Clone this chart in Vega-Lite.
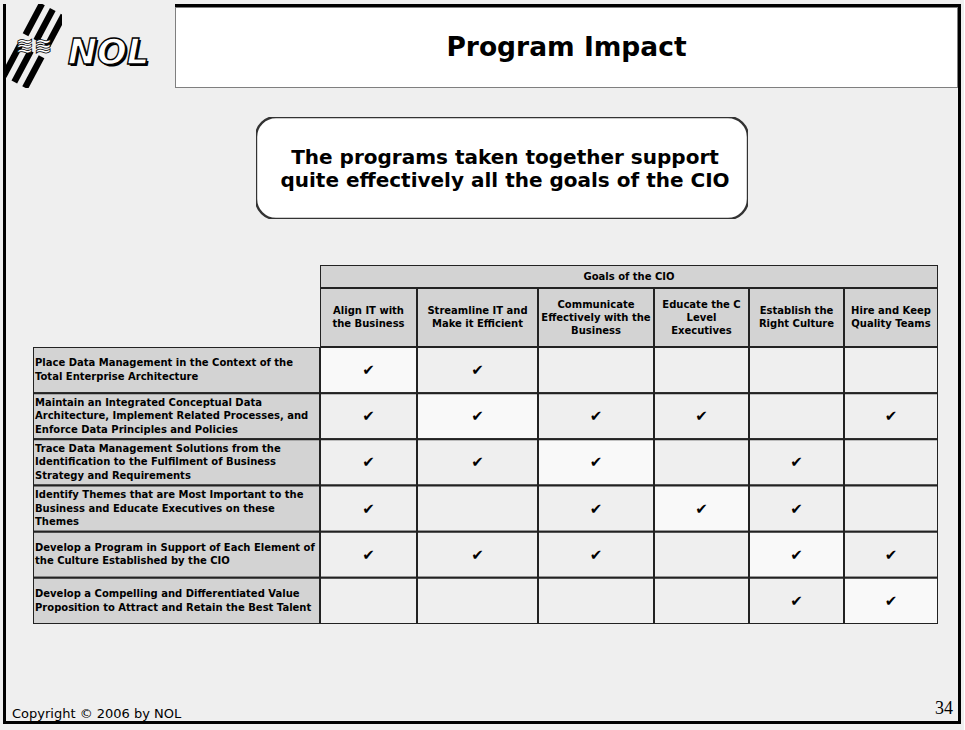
{
  "$schema": "https://vega.github.io/schema/vega-lite/v6.json",
  "padding": {"left": 3, "top": 4, "right": 3, "bottom": 6},
  "background": "#efefef",
  "config": {
    "view": {"stroke": null},
    "text": {"font": "DejaVu Sans", "color": "black"},
    "concat": {"spacing": 0}
  },
  "datasets": {
    "goals": [
      {"g": 1, "label": "Align IT with\nthe Business"},
      {"g": 2, "label": "Streamline IT and\nMake it Efficient"},
      {"g": 3, "label": "Communicate\nEffectively with the\nBusiness"},
      {"g": 4, "label": "Educate the C\nLevel\nExecutives"},
      {"g": 5, "label": "Establish the\nRight Culture"},
      {"g": 6, "label": "Hire and Keep\nQuality Teams"}
    ],
    "programs": [
      {"p": 1, "label": "Place Data Management in the Context of the\nTotal Enterprise Architecture"},
      {"p": 2, "label": "Maintain an Integrated Conceptual Data\nArchitecture, Implement Related Processes, and\nEnforce Data Principles and Policies"},
      {"p": 3, "label": "Trace Data Management Solutions from the\nIdentification to the Fulfilment of Business\nStrategy and Requirements"},
      {"p": 4, "label": "Identify Themes that are Most Important to the\nBusiness and Educate Executives on these\nThemes"},
      {"p": 5, "label": "Develop a Program in Support of Each Element of\nthe Culture Established by the CIO"},
      {"p": 6, "label": "Develop a Compelling and Differentiated Value\nProposition to Attract and Retain the Best Talent"}
    ],
    "cells": [
      {"p": 1, "g": 1, "supported": true}, {"p": 1, "g": 2, "supported": true}, {"p": 1, "g": 3, "supported": false},
      {"p": 1, "g": 4, "supported": false}, {"p": 1, "g": 5, "supported": false}, {"p": 1, "g": 6, "supported": false},
      {"p": 2, "g": 1, "supported": true}, {"p": 2, "g": 2, "supported": true}, {"p": 2, "g": 3, "supported": true},
      {"p": 2, "g": 4, "supported": true}, {"p": 2, "g": 5, "supported": false}, {"p": 2, "g": 6, "supported": true},
      {"p": 3, "g": 1, "supported": true}, {"p": 3, "g": 2, "supported": true}, {"p": 3, "g": 3, "supported": true},
      {"p": 3, "g": 4, "supported": false}, {"p": 3, "g": 5, "supported": true}, {"p": 3, "g": 6, "supported": false},
      {"p": 4, "g": 1, "supported": true}, {"p": 4, "g": 2, "supported": false}, {"p": 4, "g": 3, "supported": true},
      {"p": 4, "g": 4, "supported": true}, {"p": 4, "g": 5, "supported": true}, {"p": 4, "g": 6, "supported": false},
      {"p": 5, "g": 1, "supported": true}, {"p": 5, "g": 2, "supported": true}, {"p": 5, "g": 3, "supported": true},
      {"p": 5, "g": 4, "supported": false}, {"p": 5, "g": 5, "supported": true}, {"p": 5, "g": 6, "supported": true},
      {"p": 6, "g": 1, "supported": false}, {"p": 6, "g": 2, "supported": false}, {"p": 6, "g": 3, "supported": false},
      {"p": 6, "g": 4, "supported": false}, {"p": 6, "g": 5, "supported": true}, {"p": 6, "g": 6, "supported": true}
    ]
  },
  "spacing": 0,
  "vconcat": [
    {
      "spacing": 0,
      "hconcat": [
        {"width": 3, "height": 717, "data": {"values": []}, "mark": "point", "view": {"fill": "black"}},
        {
          "spacing": 0,
          "vconcat": [
            {
              "spacing": 0,
              "hconcat": [
                {"width": 56, "height": 84, "data": {"values": [{"bars": "≡≡", "waves": "≋≋"}]},
                 "layer": [
                   {"mark": {"type": "text", "fontSize": 56, "fontWeight": "bold", "fill": "black", "angle": -62, "clip": true},
                    "encoding": {"text": {"field": "bars"}}},
                   {"mark": {"type": "text", "fontSize": 22, "fontWeight": "bold", "fill": "white", "stroke": "black", "strokeWidth": 0.8, "clip": true},
                    "encoding": {"text": {"field": "waves"}}}
                 ]},
                {"width": 113, "height": 84, "data": {"values": [{"t": "NOL"}]},
                 "layer": [
                   {"mark": {"type": "text", "fontSize": 35, "fontWeight": "bold", "fontStyle": "italic", "fill": "black", "dx": -8, "dy": 9},
                    "encoding": {"text": {"field": "t"}}},
                   {"mark": {"type": "text", "fontSize": 35, "fontWeight": "bold", "fontStyle": "italic", "fill": "white", "stroke": "black", "strokeWidth": 1.3, "dx": -10, "dy": 7},
                    "encoding": {"text": {"field": "t"}}}
                 ]},
                {
                  "spacing": 0,
                  "vconcat": [
                    {"width": 783, "height": 3, "data": {"values": []}, "mark": "point", "view": {"fill": "black"}},
                    {"width": 783, "height": 81, "data": {"values": [{"t": "Program Impact"}]},
                     "layer": [
                       {"mark": {"type": "rect", "fill": "white", "stroke": "#7f7f7f", "strokeWidth": 2, "clip": true}},
                       {"mark": {"type": "text", "fontSize": 26.5, "fontWeight": "bold", "fill": "black"},
                        "encoding": {"text": {"field": "t"}}}
                     ]}
                  ]
                }
              ]
            },
            {"width": 952, "height": 29, "data": {"values": []}, "mark": "point"},
            {
              "spacing": 0,
              "hconcat": [
                {"width": 250, "height": 102, "data": {"values": []}, "mark": "point"},
                {"width": 492, "height": 102,
                 "data": {"values": [{"t": "The programs taken together support\nquite effectively all the goals of the CIO"}]},
                 "layer": [
                   {"mark": {"type": "rect", "fill": "white", "stroke": "#333333", "strokeWidth": 2.4, "cornerRadius": 20, "clip": true}},
                   {"mark": {"type": "text", "fontSize": 20, "fontWeight": "bold", "lineBreak": "\n", "lineHeight": 23, "fill": "black", "dx": 3, "dy": -10},
                    "encoding": {"text": {"field": "t"}}}
                 ]}
              ]
            },
            {"width": 952, "height": 46, "data": {"values": []}, "mark": "point"},
            {
              "spacing": 0,
              "hconcat": [
                {"width": 27, "height": 359, "data": {"values": []}, "mark": "point"},
                {
                  "spacing": 0,
                  "vconcat": [
                    {"width": 287, "height": 82, "data": {"values": []}, "mark": "point"},
                    {"width": 287, "height": 277, "data": {"name": "programs"},
                     "encoding": {"y": {"field": "p", "type": "ordinal", "axis": null, "scale": {"domain": [1, 2, 3, 4, 5, 6], "paddingInner": 0, "paddingOuter": 0}}},
                     "layer": [
                       {"mark": {"type": "rect", "fill": "#d3d3d3", "stroke": "#222222", "strokeWidth": 2, "clip": true}},
                       {"transform": [{"filter": "indexof(datum.label, '\\n') == lastindexof(datum.label, '\\n')"}],
                        "mark": {"type": "text", "align": "left", "fontWeight": "bold", "fontSize": 10, "lineBreak": "\n", "lineHeight": 13.3, "dx": 2, "dy": -6.65, "fill": "black"},
                        "encoding": {"text": {"field": "label"}, "x": {"datum": 0, "type": "quantitative", "scale": {"domain": [0, 1]}, "axis": null}}},
                       {"transform": [{"filter": "indexof(datum.label, '\\n') != lastindexof(datum.label, '\\n')"}],
                        "mark": {"type": "text", "align": "left", "fontWeight": "bold", "fontSize": 10, "lineBreak": "\n", "lineHeight": 13.3, "dx": 2, "dy": -13.3, "fill": "black"},
                        "encoding": {"text": {"field": "label"}, "x": {"datum": 0, "type": "quantitative", "axis": null}}}
                     ]}
                  ]
                },
                {
                  "spacing": 0,
                  "vconcat": [
                    {"width": 618, "height": 23, "data": {"values": [{"t": "Goals of the CIO"}]},
                     "layer": [
                       {"mark": {"type": "rect", "fill": "#d3d3d3", "stroke": "#222222", "strokeWidth": 2, "clip": true}},
                       {"mark": {"type": "text", "fontWeight": "bold", "fontSize": 10, "fill": "black"},
                        "encoding": {"text": {"field": "t"}}}
                     ]},
                    {
                      "spacing": 0,
                      "hconcat": [
                        {"width": 97, "height": 59, "data": {"name": "goals"}, "transform": [{"filter": "datum.g == 1"}],
                         "layer": [
                           {"mark": {"type": "rect", "fill": "#d3d3d3", "stroke": "#222222", "strokeWidth": 2, "clip": true}},
                           {"mark": {"type": "text", "fontWeight": "bold", "fontSize": 10, "lineBreak": "\n", "lineHeight": 13, "dy": -6.5, "fill": "black"},
                            "encoding": {"text": {"field": "label"}}}
                         ]},
                        {"width": 121, "height": 59, "data": {"name": "goals"}, "transform": [{"filter": "datum.g == 2"}],
                         "layer": [
                           {"mark": {"type": "rect", "fill": "#d3d3d3", "stroke": "#222222", "strokeWidth": 2, "clip": true}},
                           {"mark": {"type": "text", "fontWeight": "bold", "fontSize": 10, "lineBreak": "\n", "lineHeight": 13, "dy": -6.5, "fill": "black"},
                            "encoding": {"text": {"field": "label"}}}
                         ]},
                        {"width": 116, "height": 59, "data": {"name": "goals"}, "transform": [{"filter": "datum.g == 3"}],
                         "layer": [
                           {"mark": {"type": "rect", "fill": "#d3d3d3", "stroke": "#222222", "strokeWidth": 2, "clip": true}},
                           {"mark": {"type": "text", "fontWeight": "bold", "fontSize": 10, "lineBreak": "\n", "lineHeight": 13, "dy": -13, "fill": "black"},
                            "encoding": {"text": {"field": "label"}}}
                         ]},
                        {"width": 95, "height": 59, "data": {"name": "goals"}, "transform": [{"filter": "datum.g == 4"}],
                         "layer": [
                           {"mark": {"type": "rect", "fill": "#d3d3d3", "stroke": "#222222", "strokeWidth": 2, "clip": true}},
                           {"mark": {"type": "text", "fontWeight": "bold", "fontSize": 10, "lineBreak": "\n", "lineHeight": 13, "dy": -13, "fill": "black"},
                            "encoding": {"text": {"field": "label"}}}
                         ]},
                        {"width": 95, "height": 59, "data": {"name": "goals"}, "transform": [{"filter": "datum.g == 5"}],
                         "layer": [
                           {"mark": {"type": "rect", "fill": "#d3d3d3", "stroke": "#222222", "strokeWidth": 2, "clip": true}},
                           {"mark": {"type": "text", "fontWeight": "bold", "fontSize": 10, "lineBreak": "\n", "lineHeight": 13, "dy": -6.5, "fill": "black"},
                            "encoding": {"text": {"field": "label"}}}
                         ]},
                        {"width": 94, "height": 59, "data": {"name": "goals"}, "transform": [{"filter": "datum.g == 6"}],
                         "layer": [
                           {"mark": {"type": "rect", "fill": "#d3d3d3", "stroke": "#222222", "strokeWidth": 2, "clip": true}},
                           {"mark": {"type": "text", "fontWeight": "bold", "fontSize": 10, "lineBreak": "\n", "lineHeight": 13, "dy": -6.5, "fill": "black"},
                            "encoding": {"text": {"field": "label"}}}
                         ]}
                      ]
                    },
                    {
                      "spacing": 0,
                      "hconcat": [
                        {"width": 97, "height": 277, "data": {"name": "cells"}, "transform": [{"filter": "datum.g == 1"}],
                         "encoding": {"y": {"field": "p", "type": "ordinal", "axis": null, "scale": {"domain": [1, 2, 3, 4, 5, 6], "paddingInner": 0, "paddingOuter": 0}}},
                         "layer": [
                           {"mark": {"type": "rect", "stroke": "#222222", "strokeWidth": 2, "clip": true},
                            "encoding": {"fill": {"condition": {"test": "datum.p == datum.g", "value": "#f9f9f9"}, "value": "#efefef"}}},
                           {"transform": [{"filter": "datum.supported"}], "mark": {"type": "text", "text": "✔", "fontSize": 15, "fill": "black"}}
                         ]},
                        {"width": 121, "height": 277, "data": {"name": "cells"}, "transform": [{"filter": "datum.g == 2"}],
                         "encoding": {"y": {"field": "p", "type": "ordinal", "axis": null, "scale": {"domain": [1, 2, 3, 4, 5, 6], "paddingInner": 0, "paddingOuter": 0}}},
                         "layer": [
                           {"mark": {"type": "rect", "stroke": "#222222", "strokeWidth": 2, "clip": true},
                            "encoding": {"fill": {"condition": {"test": "datum.p == datum.g", "value": "#f9f9f9"}, "value": "#efefef"}}},
                           {"transform": [{"filter": "datum.supported"}], "mark": {"type": "text", "text": "✔", "fontSize": 15, "fill": "black"}}
                         ]},
                        {"width": 116, "height": 277, "data": {"name": "cells"}, "transform": [{"filter": "datum.g == 3"}],
                         "encoding": {"y": {"field": "p", "type": "ordinal", "axis": null, "scale": {"domain": [1, 2, 3, 4, 5, 6], "paddingInner": 0, "paddingOuter": 0}}},
                         "layer": [
                           {"mark": {"type": "rect", "stroke": "#222222", "strokeWidth": 2, "clip": true},
                            "encoding": {"fill": {"condition": {"test": "datum.p == datum.g", "value": "#f9f9f9"}, "value": "#efefef"}}},
                           {"transform": [{"filter": "datum.supported"}], "mark": {"type": "text", "text": "✔", "fontSize": 15, "fill": "black"}}
                         ]},
                        {"width": 95, "height": 277, "data": {"name": "cells"}, "transform": [{"filter": "datum.g == 4"}],
                         "encoding": {"y": {"field": "p", "type": "ordinal", "axis": null, "scale": {"domain": [1, 2, 3, 4, 5, 6], "paddingInner": 0, "paddingOuter": 0}}},
                         "layer": [
                           {"mark": {"type": "rect", "stroke": "#222222", "strokeWidth": 2, "clip": true},
                            "encoding": {"fill": {"condition": {"test": "datum.p == datum.g", "value": "#f9f9f9"}, "value": "#efefef"}}},
                           {"transform": [{"filter": "datum.supported"}], "mark": {"type": "text", "text": "✔", "fontSize": 15, "fill": "black"}}
                         ]},
                        {"width": 95, "height": 277, "data": {"name": "cells"}, "transform": [{"filter": "datum.g == 5"}],
                         "encoding": {"y": {"field": "p", "type": "ordinal", "axis": null, "scale": {"domain": [1, 2, 3, 4, 5, 6], "paddingInner": 0, "paddingOuter": 0}}},
                         "layer": [
                           {"mark": {"type": "rect", "stroke": "#222222", "strokeWidth": 2, "clip": true},
                            "encoding": {"fill": {"condition": {"test": "datum.p == datum.g", "value": "#f9f9f9"}, "value": "#efefef"}}},
                           {"transform": [{"filter": "datum.supported"}], "mark": {"type": "text", "text": "✔", "fontSize": 15, "fill": "black"}}
                         ]},
                        {"width": 94, "height": 277, "data": {"name": "cells"}, "transform": [{"filter": "datum.g == 6"}],
                         "encoding": {"y": {"field": "p", "type": "ordinal", "axis": null, "scale": {"domain": [1, 2, 3, 4, 5, 6], "paddingInner": 0, "paddingOuter": 0}}},
                         "layer": [
                           {"mark": {"type": "rect", "stroke": "#222222", "strokeWidth": 2, "clip": true},
                            "encoding": {"fill": {"condition": {"test": "datum.p == datum.g", "value": "#f9f9f9"}, "value": "#efefef"}}},
                           {"transform": [{"filter": "datum.supported"}], "mark": {"type": "text", "text": "✔", "fontSize": 15, "fill": "black"}}
                         ]}
                      ]
                    }
                  ]
                }
              ]
            },
            {
              "spacing": 0,
              "vconcat": [
                {"width": 952, "height": 75, "data": {"values": []}, "mark": "point"},
                {"width": 952, "height": 22,
                 "layer": [
                   {"data": {"values": [{"t": "Copyright © 2006 by NOL"}]},
                    "mark": {"type": "text", "align": "left", "fontSize": 13, "dx": 6, "dy": 3.5, "fill": "black"},
                    "encoding": {"text": {"field": "t"}, "x": {"datum": 0, "type": "quantitative", "scale": {"domain": [0, 1]}, "axis": null}}},
                   {"data": {"values": [{"t": "34"}]},
                    "mark": {"type": "text", "align": "right", "font": "Liberation Serif", "fontSize": 18, "dx": -5, "dy": -1, "fill": "black"},
                    "encoding": {"text": {"field": "t"}, "x": {"datum": 1, "type": "quantitative", "axis": null}}}
                 ]}
              ]
            }
          ]
        },
        {"width": 3, "height": 717, "data": {"values": []}, "mark": "point", "view": {"fill": "black"}}
      ]
    },
    {"width": 958, "height": 3, "data": {"values": []}, "mark": "point", "view": {"fill": "black"}}
  ]
}
